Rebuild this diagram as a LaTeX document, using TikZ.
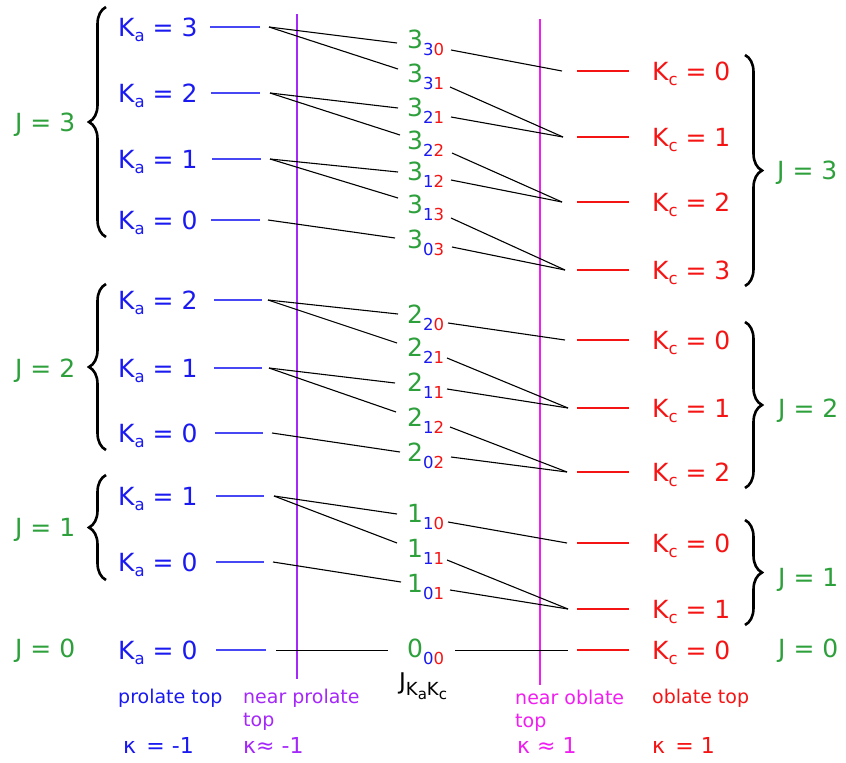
\documentclass[tikz,border=0pt]{standalone}
\usepackage{fontspec}
\setmainfont{DejaVu Sans}
\usetikzlibrary{decorations.pathreplacing}
\definecolor{kblue}{RGB}{25,25,240}
\definecolor{kgreen}{RGB}{45,160,60}
\definecolor{kred}{RGB}{245,20,20}
\definecolor{kpurple}{RGB}{165,40,250}
\definecolor{kmag}{RGB}{240,30,240}
\newcommand{\bigf}{\fontsize{25}{30}\selectfont}
\newcommand{\subf}{\fontsize{16.5}{20}\selectfont}
\newcommand{\smf}{\fontsize{19}{22}\selectfont}
\newcommand{\kapf}{\fontsize{22}{24}\selectfont}
\newcommand{\myKa}{K\raisebox{-5pt}{\subf a}}
\newcommand{\myKc}{K\raisebox{-5pt}{\subf c}}
\newcommand{\mylev}[3]{{\color{kgreen}#1}\raisebox{-7pt}{\subf\color{kblue}#2\color{kred}#3}}
\begin{document}
\begin{tikzpicture}[x=1pt,y=-1pt,
  lab/.style={inner sep=0pt,anchor=base west,font=\bigf},
  jlab/.style={lab,text=kgreen},
  bstub/.style={draw=kblue!80!white,line width=1.3pt},
  rstub/.style={draw=kred,line width=1.3pt},
  conn/.style={draw=black,line width=1.1pt},
  jbrace/.style={draw=black,line width=2.6pt,decorate,decoration={brace,amplitude=17pt,aspect=0.5}},
  small/.style={inner sep=0pt,anchor=base west,font=\smf},
  kap/.style={inner sep=0pt,anchor=base west,font=\kapf}]
\useasboundingbox (0,0) rectangle (846,763);

% vertical lines
\coordinate (ptop) at (297,14); \coordinate (pbot) at (297,679);
\coordinate (mtop) at (540,19); \coordinate (mbot) at (540,685);
\draw[kpurple,line width=1.4pt] (ptop) -- (pbot);
\draw[kmag,line width=1.4pt] (mtop) -- (mbot);

% left Ka levels: name/y/K_a/stub start/stub end/connector start
\foreach \n/\y/\k/\sa/\sb/\cx in {a33/27/3/210/260/269, a32/93/2/211/260/270, a31/159/1/212/261/270, a30/220/0/211/260/268,
  a22/300/2/214/262/268, a21/368/1/214/262/269, a20/433/0/215/263/272,
  a11/496/1/216/264/274, a10/562/0/216/264/273, a00/650/0/216/266/276}{
  \node[lab,text=kblue] (t\n) at (118,\y+9.5) {\myKa{} = \k};
  \coordinate (s\n) at (\sa,\y); \coordinate (e\n) at (\sb,\y);
  \draw[bstub] (s\n) -- (e\n);
  \coordinate (\n) at (\cx,\y);
}

% right Kc levels: name/y/K_c/converge x
\foreach \n/\y/\k/\cx in {c30/71/0/562, c31/137/1/563, c32/202/2/562, c33/270/3/565,
  c20/340/0/565, c21/408/1/568, c22/472/2/567,
  c10/543/0/567, c11/609/1/568, c00/650/0/568}{
  \node[lab,text=kred] (t\n) at (652,\y+9.5) {\myKc{} = \k};
  \coordinate (s\n) at (577,\y); \coordinate (e\n) at (629,\y);
  \draw[rstub] (s\n) -- (e\n);
  \coordinate (\n) at (\cx,\y);
}

% middle levels: name/center y/J/Ka/Kc/left end x/y/right start x/y
\foreach \n/\y/\j/\a/\c/\lx/\ly/\rx/\ry in {
  m330/39/3/3/0/397/43/451/50,
  m331/73/3/3/1/398/69/450/87,
  m321/107/3/2/1/398/108/451/117,
  m322/140/3/2/2/400/135/452/153,
  m312/171/3/1/2/398/172/451/180,
  m313/204/3/1/3/398/198/451/218,
  m303/239/3/0/3/395/238/452/247,
  m220/314/2/2/0/398/314/448/323,
  m221/347/2/2/1/397/343/447/358,
  m211/382/2/1/1/395/383/447/389,
  m212/417/2/1/2/396/412/450/427,
  m202/452/2/0/2/400/452/451/457,
  m110/513/1/1/0/397/514/448/522,
  m111/548/1/1/1/397/543/447/560,
  m101/583/1/0/1/401/582/450/590,
  m000/648/0/0/0/388/650/455/650}{
  \node[lab] (\n) at (407,\y+9.5) {\mylev{\j}{\a}{\c}};
  \coordinate (l\n) at (\lx,\ly);
  \coordinate (r\n) at (\rx,\ry);
}

% connectors left side
\foreach \s/\t in {a33/m330, a33/m331, a32/m321, a32/m322, a31/m312, a31/m313, a30/m303,
  a22/m220, a22/m221, a21/m211, a21/m212, a20/m202,
  a11/m110, a11/m111, a10/m101}{
  \draw[conn] (\s) -- (l\t);
}
% connectors right side
\foreach \s/\t in {m330/c30, m331/c31, m321/c31, m322/c32, m312/c32, m313/c33, m303/c33,
  m220/c20, m221/c21, m211/c21, m212/c22, m202/c22,
  m110/c10, m111/c11, m101/c11}{
  \draw[conn] (r\s) -- (\t);
}
% J = 0 row
\draw[conn,line width=0.9pt] (a00) -- (lm000);
\draw[conn,line width=0.9pt] (rm000) -- (c00);

% J_{KaKc}
\node[inner sep=0pt,anchor=base west,font=\fontsize{23}{26}\selectfont] (jkk) at (399,689)
  {J\raisebox{-6pt}{\fontsize{18}{20}\selectfont K\raisebox{-4pt}{\fontsize{15}{16}\selectfont a}K\raisebox{-4pt}{\fontsize{15}{16}\selectfont c}}};

% braces left
\coordinate (bl3a) at (106,237); \coordinate (bl3b) at (106,7);
\coordinate (bl2a) at (106,450); \coordinate (bl2b) at (106,284);
\coordinate (bl1a) at (106,580); \coordinate (bl1b) at (106,475);
\draw[jbrace] (bl3a) -- (bl3b);
\draw[jbrace] (bl2a) -- (bl2b);
\draw[jbrace] (bl1a) -- (bl1b);
% braces right
\coordinate (br3a) at (745,55); \coordinate (br3b) at (745,286);
\coordinate (br2a) at (745,322); \coordinate (br2b) at (745,488);
\coordinate (br1a) at (745,520); \coordinate (br1b) at (745,625);
\draw[jbrace] (br3a) -- (br3b);
\draw[jbrace] (br2a) -- (br2b);
\draw[jbrace] (br1a) -- (br1b);

% J labels
\node[jlab] (jl3) at (15,131.5) {J = 3};
\node[jlab] (jl2) at (15,377.5) {J = 2};
\node[jlab] (jl1) at (15,536.5) {J = 1};
\node[jlab] (jl0) at (15,657.5) {J = 0};
\node[jlab] (jr3) at (777,179.5) {J = 3};
\node[jlab] (jr2) at (778,417.5) {J = 2};
\node[jlab] (jr1) at (778,586.5) {J = 1};
\node[jlab] (jr0) at (778,657.5) {J = 0};

% bottom labels
\node[small,text=kblue] (pt) at (118,703) {prolate top};
\node[small,text=kpurple] (npt1) at (243,703) {near prolate};
\node[small,text=kpurple] (npt2) at (243,726) {top};
\node[small,text=kmag] (not1) at (515,704) {near oblate};
\node[small,text=kmag] (not2) at (515,727) {top};
\node[small,text=kred] (ot) at (652,703) {oblate top};
\node[kap,text=kblue] (k1) at (123,753) {κ\hspace{0.15em} = -1};
\node[kap,text=kpurple] (k2) at (243,753) {κ≈ -1};
\node[kap,text=kmag] (k3) at (517,753) {κ ≈ 1};
\node[kap,text=kred] (k4) at (652,753) {κ\hspace{0.15em} = 1};
\end{tikzpicture}
\end{document}
